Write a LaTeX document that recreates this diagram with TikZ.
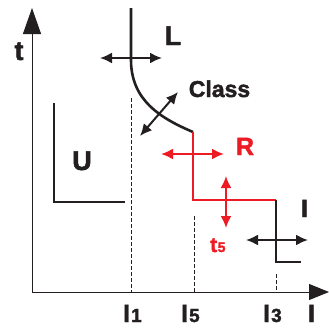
\documentclass[tikz,border=0pt]{standalone}
\usepackage{fontspec}
\setmainfont{Liberation Sans}[BoldFeatures={FakeBold=1.8}]
\usetikzlibrary{arrows.meta}
\definecolor{ink}{RGB}{35,31,32}
\definecolor{rd}{RGB}{237,28,36}
\tikzset{
  axis/.style={ink, line width=1pt},
  curve/.style={ink, line width=2.6pt},
  rcurve/.style={rd, line width=2.6pt},
  dbl/.style={line width=2pt, {Latex[length=12pt,width=11pt]}-{Latex[length=12pt,width=11pt]}},
  guide/.style={ink, line width=0.8pt, dash pattern=on 3.5pt off 2.5pt},
  lbl/.style={inner sep=0pt, anchor=base, font=\fontsize{27}{27}\selectfont\bfseries, text=ink},
}
\begin{document}
\begin{tikzpicture}[x=1pt,y=-1pt]
\useasboundingbox (0,0) rectangle (329,327);
% axes
\coordinate (o) at (32,292);
\coordinate (ytip) at (32,8);
\coordinate (xtip) at (329,292);
\draw[axis, -{Triangle[length=26pt,width=18pt]}] (o) -- (ytip);
\draw[axis, -{Triangle[length=20pt,width=16pt]}] (o) -- (xtip);
% guides
\coordinate (g1a) at (131,98);  \coordinate (g1b) at (131,292);
\coordinate (g5a) at (194,216); \coordinate (g5b) at (194,292);
\coordinate (g3a) at (276,274); \coordinate (g3b) at (276,292);
\draw[guide] (g1a) -- (g1b);
\draw[guide] (g5a) -- (g5b);
\draw[guide] (g3a) -- (g3b);
% U
\coordinate (u1) at (54,103); \coordinate (u2) at (54,202); \coordinate (u3) at (125,202);
\draw[curve] (u1) -- (u2) -- (u3);
% L curve
\coordinate (c0) at (131,8); \coordinate (c1) at (131,60); \coordinate (c2) at (193,132);
\draw[curve, line join=round] (c0) -- (c1) .. controls (131,100) and (160,118) .. (c2);
% R / t5 red part
\coordinate (r1) at (193,200); \coordinate (r2) at (276,200);
\draw[rcurve, line join=miter] (c2) -- (r1) -- (r2);
% I part
\coordinate (i1) at (276,262); \coordinate (i2) at (301,262);
\draw[curve] (r2) -- (i1) -- (i2);
% double arrows
\coordinate (la) at (100,58);  \coordinate (lb) at (162,58);
\draw[dbl, ink] (la) -- (lb);
\coordinate (ca) at (140,136); \coordinate (cb) at (178,92);
\draw[dbl, ink] (ca) -- (cb);
\coordinate (ra) at (161,154); \coordinate (rb) at (224,154);
\draw[dbl, rd] (ra) -- (rb);
\coordinate (ta) at (226,176); \coordinate (tb) at (226,228);
\draw[dbl, rd] (ta) -- (tb);
\coordinate (ia) at (246,240); \coordinate (ib) at (308,240);
\draw[dbl, ink] (ia) -- (ib);
% labels
\node[lbl] (tl) at (19,60) {t};
\node[lbl] (Ll) at (173,45) {L};
\node[lbl, font=\fontsize{23}{23}\selectfont\bfseries] (cl) at (219.5,97) {Class};
\node[lbl] (ul) at (82,170) {U};
\node[lbl, text=rd, font=\fontsize{25}{25}\selectfont\bfseries] (rl) at (245,155) {R};
\node[lbl, anchor=base west, text=rd, font=\fontsize{21}{21}\selectfont\bfseries] (t5l) at (210,252) {t\kern0.5pt{\fontsize{14}{14}\selectfont 5}};
\node[lbl, font=\fontsize{25}{25}\selectfont\bfseries] (Il) at (304.5,217) {I};
\node[lbl, anchor=base west, font=\fontsize{25}{25}\selectfont\bfseries] (x1) at (123,322) {I\kern1pt{\fontsize{19}{19}\selectfont 1}};
\node[lbl, anchor=base west, font=\fontsize{25}{25}\selectfont\bfseries] (x5) at (181,322) {I\kern1pt{\fontsize{19}{19}\selectfont 5}};
\node[lbl, anchor=base west, font=\fontsize{25}{25}\selectfont\bfseries] (x3) at (263,322) {I\kern1pt{\fontsize{19}{19}\selectfont 3}};
\node[lbl, font=\fontsize{25}{25}\selectfont\bfseries] (xl) at (311.5,322) {I};
\end{tikzpicture}
\end{document}
